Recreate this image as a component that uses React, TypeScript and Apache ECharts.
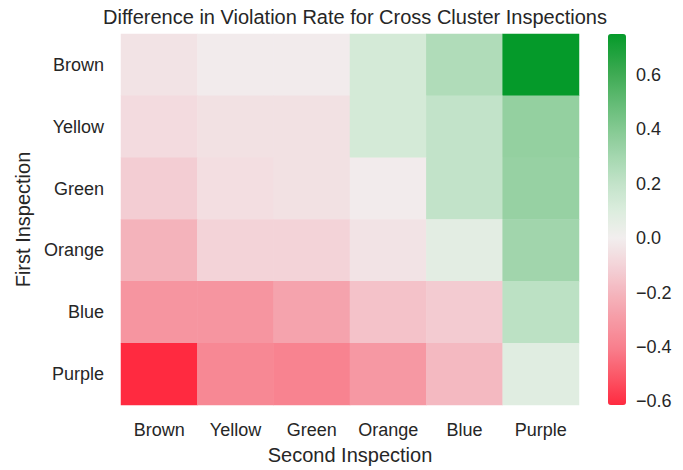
import React, { useEffect, useRef } from "react";
import * as echarts from "echarts";

const rowLabels = ["Brown", "Yellow", "Green", "Orange", "Blue", "Purple"];
const colLabels = ["Brown", "Yellow", "Green", "Orange", "Blue", "Purple"];

// values[row][col]: first inspection (row) vs second inspection (col)
const rowBrown = [-0.04, -0.01, -0.01, 0.13, 0.26, 0.75];
const rowYellow = [-0.07, -0.05, -0.05, 0.13, 0.2, 0.35];
const rowGreen = [-0.12, -0.06, -0.05, -0.01, 0.2, 0.34];
const rowOrange = [-0.21, -0.1, -0.1, -0.04, 0.07, 0.31];
const rowBlue = [-0.32, -0.32, -0.27, -0.16, -0.13, 0.22];
const rowPurple = [-0.613, -0.37, -0.39, -0.31, -0.19, 0.08];
const matrix = [rowBrown, rowYellow, rowGreen, rowOrange, rowBlue, rowPurple];

const colorbarTicks = [-0.6, -0.4, -0.2, 0.0, 0.2, 0.4, 0.6];
const vMin = -0.613;
const vMax = 0.75;

// diverging colormap stops (value, colour)
const cmapStops: [number, string][] = [
  [-0.613, "#ff2a40"],
  [-0.5, "#fb5a6a"],
  [-0.4, "#f8808e"],
  [-0.3, "#f69ba5"],
  [-0.2, "#f4b6be"],
  [-0.1, "#f3d3d8"],
  [0.0, "#f2eeee"],
  [0.1, "#dcedde"],
  [0.2, "#c2e3c9"],
  [0.3, "#a4d7af"],
  [0.4, "#84c992"],
  [0.5, "#62bb74"],
  [0.6, "#3fab54"],
  [0.75, "#059a2a"],
];

function hexToRgb(h: string) {
  const n = parseInt(h.slice(1), 16);
  return [(n >> 16) & 255, (n >> 8) & 255, n & 255];
}
function sampleCmap(v: number) {
  for (let i = 0; i < cmapStops.length - 1; i++) {
    const [a, ca] = cmapStops[i];
    const [b, cb] = cmapStops[i + 1];
    if (v <= b || i === cmapStops.length - 2) {
      const t = Math.max(0, Math.min(1, (v - a) / (b - a)));
      const A = hexToRgb(ca);
      const B = hexToRgb(cb);
      const c = A.map((x, k) => Math.round(x + (B[k] - x) * t));
      return `rgb(${c[0]},${c[1]},${c[2]})`;
    }
  }
  return cmapStops[0][1];
}
const N_STOPS = 60;
const rampColors: string[] = [];
for (let i = 0; i <= N_STOPS; i++) {
  rampColors.push(sampleCmap(vMin + ((vMax - vMin) * i) / N_STOPS));
}

const FONT = "Liberation Sans, Arial, sans-serif";
const TXT = "#262626";

export default function App() {
  const ref = useRef<HTMLDivElement>(null);
  useEffect(() => {
    if (!ref.current) return;
    const chart = echarts.init(ref.current, undefined, { renderer: "svg" });
    const data: [number, number, number][] = [];
    matrix.forEach((row, r) => row.forEach((v, c) => data.push([c, r, v])));
    chart.setOption({
      animation: false,
      backgroundColor: "#ffffff",
      textStyle: { fontFamily: FONT },
      title: {
        text: "Difference in Violation Rate for Cross Cluster Inspections",
        left: 350,
        textAlign: "center",
        top: 2,
        textStyle: { fontFamily: FONT, fontSize: 20, fontWeight: "normal", color: TXT },
      },
      grid: [
        { left: 121, right: 104, top: 34, bottom: 65 },
        { left: 608, width: 18, top: 34, height: 371 },
      ],
      xAxis: [
        {
          type: "category",
          gridIndex: 0,
          data: colLabels,
          name: "Second Inspection",
          nameLocation: "middle",
          nameGap: 40,
          nameTextStyle: { fontFamily: FONT, fontSize: 20, color: TXT },
          axisLine: { show: false },
          axisTick: { show: false },
          axisLabel: { fontFamily: FONT, fontSize: 18, color: TXT, margin: 16, interval: 0 },
          splitLine: { show: false },
        },
        { type: "value", gridIndex: 1, show: false, min: 0, max: 1 },
      ],
      yAxis: [
        {
          type: "category",
          gridIndex: 0,
          data: rowLabels,
          inverse: true,
          name: "First Inspection",
          nameLocation: "middle",
          nameGap: 88,
          nameTextStyle: { fontFamily: FONT, fontSize: 20, color: TXT },
          axisLine: { show: false },
          axisTick: { show: false },
          axisLabel: { fontFamily: FONT, fontSize: 18, color: TXT, margin: 17, interval: 0 },
          splitLine: { show: false },
        },
        {
          type: "value",
          gridIndex: 1,
          position: "right",
          min: vMin,
          max: vMax,
          axisLine: { show: false },
          splitLine: { show: false },
          axisTick: {
            show: true,
            length: 6,
            customValues: colorbarTicks,
            lineStyle: { color: "#333333", width: 1.2 },
          },
          axisLabel: {
            fontFamily: FONT,
            fontSize: 18,
            color: TXT,
            margin: 10,
            customValues: colorbarTicks,
            formatter: (v: number) => v.toFixed(1).replace("-", "\u2212"),
          },
        },
      ],
      visualMap: {
        type: "continuous",
        seriesIndex: 0,
        min: vMin,
        max: vMax,
        calculable: false,
        show: true,
        orient: "vertical",
        left: 608,
        top: 34,
        padding: 0,
        itemWidth: 18,
        itemHeight: 371,
        text: ["", ""],
        showLabel: false,
        inRange: { color: rampColors },
      },
      series: [
        {
          type: "heatmap",
          xAxisIndex: 0,
          yAxisIndex: 0,
          data,
          itemStyle: { borderWidth: 0 },
          emphasis: { disabled: true },
        },
        {
          type: "scatter",
          xAxisIndex: 1,
          yAxisIndex: 1,
          data: [],
        },
      ],
    });
    return () => chart.dispose();
  }, []);
  return (
    <div
      ref={ref}
      style={{ position: "fixed", left: 0, top: 0, width: 683, height: 470 }}
    />
  );
}
